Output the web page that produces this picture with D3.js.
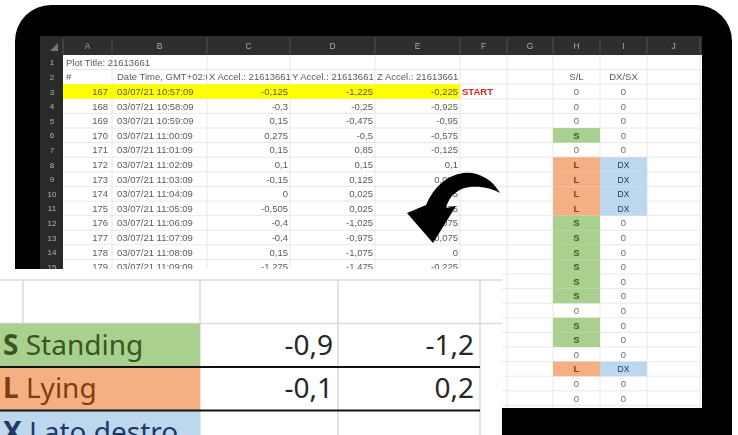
<!DOCTYPE html>
<html>
<head>
<meta charset="utf-8">
<script src="https://cdn.jsdelivr.net/npm/d3@7"></script>
<style>
  body { margin: 0; background: #fff; }
  svg { display: block; }
</style>
</head>
<body>
<div id="chart-area"></div>
<script>
// sheet data
const rowIds = [167, 168, 169, 170, 171, 172, 173, 174, 175, 176, 177, 178, 179]
const stamps = ['03/07/21 10:57:09', '03/07/21 10:58:09', '03/07/21 10:59:09', '03/07/21 11:00:09',
    '03/07/21 11:01:09', '03/07/21 11:02:09', '03/07/21 11:03:09', '03/07/21 11:04:09',
    '03/07/21 11:05:09', '03/07/21 11:06:09', '03/07/21 11:07:09', '03/07/21 11:08:09', '03/07/21 11:09:09']
const xAccel = [-0.125, -0.3, 0.15, 0.275, 0.15, 0.1, -0.15, 0, -0.505, -0.4, -0.4, 0.15, -1.275]
const yAccel = [-1.225, -0.25, -0.475, -0.5, 0.85, 0.15, 0.125, 0.025, 0.025, -1.025, -0.975, -1.075, -1.475]
const zAccel = [-0.225, -0.925, -0.95, -0.575, -0.125, 0.1, 0.075, 0.075, 0.075, 0.075, 0.075, 0, -0.225]
const headers = ['#', 'Date Time, GMT+02:00', 'X Accel.: 21613661', 'Y Accel.: 21613661', 'Z Accel.: 21613661']
// columns H and I, rows 3..25
const posture = ['0', '0', '0', 'S', '0', 'L', 'L', 'L', 'L', 'S', 'S', 'S', 'S', 'S', 'S', '0', 'S', 'S', '0', 'L', '0', '0', '0']
const side = ['0', '0', '0', '0', '0', 'DX', 'DX', 'DX', 'DX', '0', '0', '0', '0', '0', '0', '0', '0', '0', '0', 'DX', '0', '0', '0']
const colLetters = ['A', 'B', 'C', 'D', 'E', 'F', 'G', 'H', 'I', 'J']

// zoomed legend
const legendCodes = ['S', 'L', 'X']
const legendNames = ['Standing', 'Lying', 'Lato destro']
const legendX = [-0.9, -0.1, null]
const legendY = [-1.2, 0.2, null]

const W = 738, H = 435
const comma = v => v === null ? '' : String(v).replace('.', ',')
const fills = { S: '#a9d08e', L: '#f4b084', X: '#bdd7ee', DX: '#bdd7ee' }
const inks = { S: '#375623', L: '#843c0c', X: '#1f3864', DX: '#1f3864', '0': '#6a6a6a' }

const svg = d3.select('#chart-area').append('svg')
    .attr('width', W)
    .attr('height', H)

const defs = svg.append('defs')
defs.append('filter').attr('id', 'soft')
    .append('feGaussianBlur').attr('stdDeviation', 0.45)
defs.append('clipPath').attr('id', 'screen')
    .append('rect').attr('x', 40).attr('y', 36).attr('width', 662).attr('height', 372)
defs.append('clipPath').attr('id', 'cellB')
    .append('rect').attr('x', 112).attr('y', 55).attr('width', 95).attr('height', 40)

// device frame
svg.append('rect')
    .attr('x', 15).attr('y', 5)
    .attr('width', 717).attr('height', 480)
    .attr('rx', 36)
    .attr('fill', '#000')

// column scale (edges of A..J) and row scale
const colEdges = [63, 112, 207, 290, 375, 460, 507, 553, 600, 647, 700]
const colX = d3.scaleOrdinal().domain(colLetters).range(colEdges.slice(0, -1))
const colW = c => colEdges[colLetters.indexOf(c) + 1] - colX(c)
const rowH = 14.6
const y = d3.scaleLinear().domain([0, 25]).range([55, 55 + 25 * rowH])
const rowMid = r => y(r - 0.5)

const sheet = svg.append('g')
    .attr('clip-path', 'url(#screen)')
    .attr('filter', 'url(#soft)')
    .style('font-family', '"Liberation Sans", Arial, sans-serif')
    .style('font-size', '9.5px')

sheet.append('rect')
    .attr('x', 40).attr('y', 36).attr('width', 662).attr('height', 372)
    .attr('fill', '#fff')

// gridlines
sheet.append('g').selectAll('line.h').data(d3.range(1, 27)).enter()
    .append('line')
    .attr('x1', 63).attr('x2', 702)
    .attr('y1', r => y(r)).attr('y2', r => y(r))
    .attr('stroke', '#e2e2e2').attr('stroke-width', 0.8)
sheet.append('g').selectAll('line.v').data(colEdges.slice(1)).enter()
    .append('line')
    .attr('x1', d => d).attr('x2', d => d)
    .attr('y1', 55).attr('y2', 408)
    .attr('stroke', '#e2e2e2').attr('stroke-width', 0.8)

// highlighted start row
sheet.append('rect')
    .attr('x', colX('A')).attr('y', y(2))
    .attr('width', colEdges[5] - colX('A')).attr('height', rowH)
    .attr('fill', '#ffff00')

// H / I coloured cells
const flagRows = d3.range(3, 3 + posture.length)
sheet.append('g').selectAll('rect').data(flagRows.filter((r, i) => posture[i] !== '0')).enter()
    .append('rect')
    .attr('x', colX('H')).attr('y', r => y(r - 1))
    .attr('width', colW('H')).attr('height', rowH)
    .attr('fill', r => fills[posture[r - 3]])
sheet.append('g').selectAll('rect').data(flagRows.filter((r, i) => side[i] !== '0')).enter()
    .append('rect')
    .attr('x', colX('I')).attr('y', r => y(r - 1))
    .attr('width', colW('I')).attr('height', rowH)
    .attr('fill', r => fills[side[r - 3]])

// header band and row numbers (only the rows left uncovered by the zoom panel)
sheet.append('rect')
    .attr('x', 40).attr('y', 36).attr('width', 662).attr('height', 19)
    .attr('fill', '#2d2d2d')
sheet.append('rect')
    .attr('x', 40).attr('y', 36).attr('width', 23).attr('height', 372)
    .attr('fill', '#2a2a2a')
sheet.append('g').selectAll('line').data(colEdges).enter()
    .append('line')
    .attr('x1', d => d).attr('x2', d => d)
    .attr('y1', 38).attr('y2', 54)
    .attr('stroke', '#555').attr('stroke-width', 1)
sheet.append('path')
    .attr('d', 'M50,51 L58,51 L58,43 Z')
    .attr('fill', '#777')
sheet.append('g').selectAll('text').data(colLetters).enter()
    .append('text')
    .attr('x', c => colX(c) + colW(c) / 2)
    .attr('y', 49)
    .attr('text-anchor', 'middle')
    .attr('fill', '#aaa')
    .style('font-size', '8.5px')
    .text(c => c)
sheet.append('g').selectAll('text').data(d3.range(1, 16)).enter()
    .append('text')
    .attr('x', 52)
    .attr('y', r => rowMid(r) + 3)
    .attr('text-anchor', 'middle')
    .attr('fill', '#b5b5b5')
    .style('font-size', '8px')
    .text(r => r)

const ink = '#5a5a5a'
// title and headers
sheet.append('text')
    .attr('x', 66).attr('y', rowMid(1) + 3.5)
    .attr('fill', ink)
    .text('Plot Title: 21613661')
sheet.append('text')
    .attr('x', 66).attr('y', rowMid(2) + 3.5)
    .attr('fill', ink)
    .text(headers[0])
sheet.append('text')
    .attr('x', 117).attr('y', rowMid(2) + 3.5)
    .attr('fill', ink)
    .attr('clip-path', 'url(#cellB)')
    .text(headers[1])
sheet.append('g').selectAll('text').data(['C', 'D', 'E']).enter()
    .append('text')
    .attr('x', c => colX(c) + 2)
    .attr('y', rowMid(2) + 3.5)
    .attr('fill', ink)
    .text((c, i) => headers[i + 2])

// data rows
const dataRows = d3.range(3, 3 + rowIds.length)
const body = sheet.append('g')
body.selectAll('text.id').data(dataRows).enter()
    .append('text')
    .attr('x', colX('B') - 4).attr('y', r => rowMid(r) + 3.5)
    .attr('text-anchor', 'end').attr('fill', ink)
    .text(r => rowIds[r - 3])
body.selectAll('text.ts').data(dataRows).enter()
    .append('text')
    .attr('x', colX('B') + 5).attr('y', r => rowMid(r) + 3.5)
    .attr('fill', ink)
    .text(r => stamps[r - 3])
const series = [['C', xAccel], ['D', yAccel], ['E', zAccel]]
series.forEach(([c, vals]) => {
    body.append('g').selectAll('text').data(dataRows).enter()
        .append('text')
        .attr('x', colX(c) + colW(c) - 2).attr('y', r => rowMid(r) + 3.5)
        .attr('text-anchor', 'end').attr('fill', ink)
        .text(r => comma(vals[r - 3]))
})
sheet.append('text')
    .attr('x', colX('F') + 2).attr('y', rowMid(3) + 3.5)
    .attr('fill', '#e0201b')
    .style('font-weight', 'bold')
    .text('START')

// S/L and DX/SX columns
sheet.append('text')
    .attr('x', colX('H') + colW('H') / 2).attr('y', rowMid(2) + 3.5)
    .attr('text-anchor', 'middle').attr('fill', ink)
    .text('S/L')
sheet.append('text')
    .attr('x', colX('I') + colW('I') / 2).attr('y', rowMid(2) + 3.5)
    .attr('text-anchor', 'middle').attr('fill', ink)
    .text('DX/SX')
sheet.append('g').selectAll('text').data(flagRows).enter()
    .append('text')
    .attr('x', colX('H') + colW('H') / 2).attr('y', r => rowMid(r) + 3.5)
    .attr('text-anchor', 'middle')
    .attr('fill', r => inks[posture[r - 3]])
    .style('font-weight', r => posture[r - 3] === '0' ? 'normal' : 'bold')
    .text(r => posture[r - 3])
sheet.append('g').selectAll('text').data(flagRows).enter()
    .append('text')
    .attr('x', colX('I') + colW('I') / 2).attr('y', r => rowMid(r) + 3.5)
    .attr('text-anchor', 'middle')
    .attr('fill', r => inks[side[r - 3]])
    .style('font-size', r => side[r - 3] === '0' ? '9.5px' : '8.5px')
    .text(r => side[r - 3])

// curved arrow
svg.append('path')
    .attr('d', 'M500,193 C492,178 476,171 463,173 C448,175 434,186 426,205 L407,213 L433,243 L456,206 L446,208 C449,196 458,188 470,187 C482,186 493,189 500,193 Z')
    .attr('fill', '#000')

// zoomed legend panel
const ov = d3.scaleLinear().domain([0, 1]).range([280, 323.5])
const legCols = [23, 200, 338, 480]
const panel = svg.append('g')
    .style('font-family', '"Noto Sans", "Open Sans", sans-serif')
    .style('font-size', '28px')

panel.append('rect')
    .attr('x', 0).attr('y', 269).attr('width', 502).attr('height', 170)
    .attr('fill', '#fff')
panel.selectAll('line.h').data([0, 1]).enter()
    .append('line')
    .attr('x1', 0).attr('x2', 502)
    .attr('y1', i => ov(i)).attr('y2', i => ov(i))
    .attr('stroke', '#dadada').attr('stroke-width', 1.5)
panel.selectAll('line.v').data(legCols).enter()
    .append('line')
    .attr('x1', d => d).attr('x2', d => d)
    .attr('y1', ov(0)).attr('y2', d => d === 23 ? ov(1) : H)
    .attr('stroke', '#dadada').attr('stroke-width', 1.5)

const legRows = panel.selectAll('g.leg').data(legendCodes).enter()
    .append('g')
    .attr('transform', (d, i) => `translate(0, ${ov(i + 1)})`)
legRows.append('rect')
    .attr('x', 0).attr('y', 0)
    .attr('width', 200).attr('height', ov(1) - ov(0))
    .attr('fill', d => fills[d])
const lab = legRows.append('text')
    .attr('x', 3).attr('y', 31)
    .attr('fill', d => inks[d])
lab.append('tspan').style('font-weight', 'bold').text(d => d)
lab.append('tspan').text((d, i) => ' ' + legendNames[i])
legRows.append('text')
    .attr('x', 333).attr('y', 31)
    .attr('text-anchor', 'end').attr('fill', '#262626')
    .text((d, i) => comma(legendX[i]))
legRows.append('text')
    .attr('x', 474).attr('y', 31)
    .attr('text-anchor', 'end').attr('fill', '#262626')
    .text((d, i) => comma(legendY[i]))

panel.selectAll('line.thick').data([2, 3]).enter()
    .append('line')
    .attr('x1', 0).attr('x2', 480)
    .attr('y1', i => ov(i)).attr('y2', i => ov(i))
    .attr('stroke', '#111').attr('stroke-width', 2.2)
</script>
</body>
</html>
